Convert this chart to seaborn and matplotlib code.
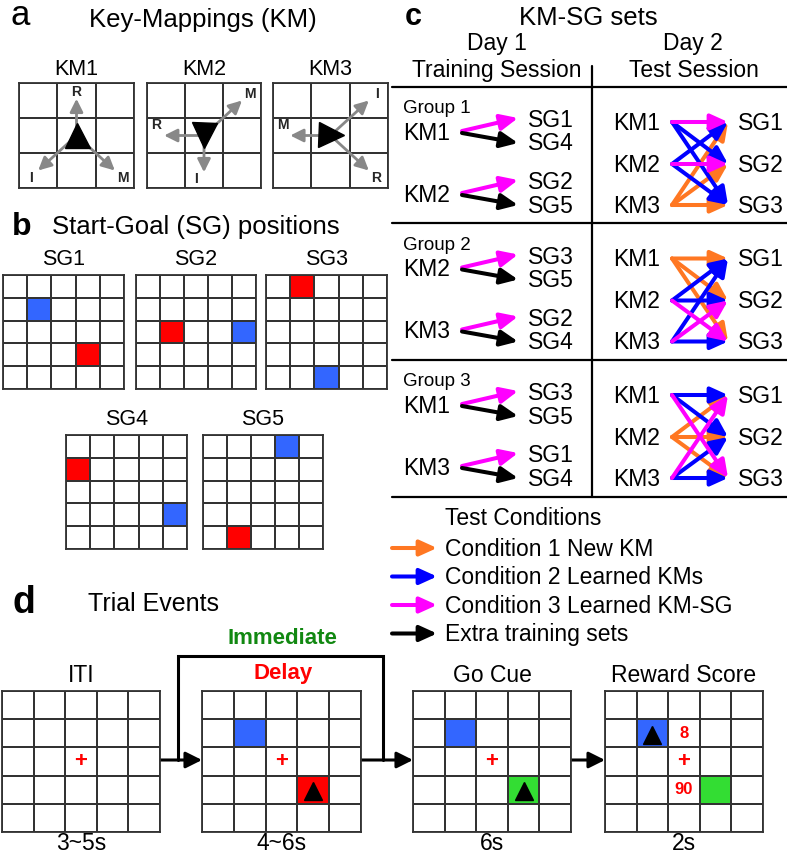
import numpy as np
import matplotlib
matplotlib.use('Agg')
import matplotlib.pyplot as plt
from matplotlib.colors import ListedColormap
import seaborn as sns

# ---------------- data ----------------
KM_NAMES = ['KM1', 'KM2', 'KM3']
KM_POINTER = ['^', 'v', '>']
# key finger -> direction (dcol, drow) on the 3x3 key grid
KM_KEYS = [
    [('R', (0, -1)), ('I', (-1, 1)), ('M', (1, 1))],
    [('M', (1, -1)), ('R', (-1, 0)), ('I', (0, 1))],
    [('I', (1, -1)), ('M', (-1, 0)), ('R', (1, 1))],
]

SG_NAMES = ['SG1', 'SG2', 'SG3', 'SG4', 'SG5']
SG_START = [(3, 3), (2, 1), (0, 1), (1, 0), (4, 1)]   # red cell (row, col)
SG_GOAL = [(1, 1), (2, 4), (4, 2), (3, 4), (0, 3)]    # blue cell (row, col)

GROUPS = ['Group 1', 'Group 2', 'Group 3']
GROUP_TRAIN = [[('KM1', 'SG1'), ('KM2', 'SG2')],
               [('KM2', 'SG3'), ('KM3', 'SG2')],
               [('KM1', 'SG3'), ('KM3', 'SG1')]]
GROUP_EXTRA = [[('KM1', 'SG4'), ('KM2', 'SG5')],
               [('KM2', 'SG5'), ('KM3', 'SG4')],
               [('KM1', 'SG5'), ('KM3', 'SG4')]]
TEST_KM = ['KM1', 'KM2', 'KM3']
TEST_SG = ['SG1', 'SG2', 'SG3']

CONDITIONS = ['Condition 1 New KM', 'Condition 2 Learned KMs',
              'Condition 3 Learned KM-SG', 'Extra training sets']
COND_COLORS = ['#ff7722', '#0000ff', '#ff00ff', 'black']

EVENT_TITLES = ['ITI', '', 'Go Cue', 'Reward Score']
EVENT_TIMES = ['3~5s', '4~6s', '6s', '2s']
# cell codes: 1 blue, 2 red, 3 green
EVENT_CELLS = [{}, {(1, 1): 1, (3, 3): 2}, {(1, 1): 1, (3, 3): 3}, {(1, 1): 1, (3, 3): 3}]
EVENT_CURSOR = [None, (3, 3), (3, 3), (1, 1)]
EVENT_SCORES = [[], [], [], [((1, 2), '8'), ((3, 2), '90')]]

# ---------------- figure ----------------
W, H = 787, 855
sns.set_theme(style='white')
plt.rcParams['font.family'] = ['Liberation Sans', 'DejaVu Sans']

fig = plt.figure(figsize=(W / 100, H / 100), dpi=100)
ov = fig.add_axes([0, 0, 1, 1])
ov.set_xlim(0, W)
ov.set_ylim(H, 0)
ov.axis('off')

cmap = ListedColormap(['white', '#3366ff', '#ff0000', '#33dd33'])
LINE = '#333333'


def px_axes(x0, y0, x1, y1):
    return fig.add_axes([x0 / W, 1 - y1 / H, (x1 - x0) / W, (y1 - y0) / H])


def grid(rect, mat):
    ax = px_axes(*rect)
    sns.heatmap(mat, ax=ax, cmap=cmap, vmin=-0.5, vmax=3.5, cbar=False,
                linewidths=1.1, linecolor=LINE, xticklabels=False, yticklabels=False)
    for s in ax.spines.values():
        s.set_visible(True)
        s.set_color(LINE)
        s.set_linewidth(1.3)
    return ax


def arrow(ax, x0, y0, x1, y1, color, lw=2.9, ms=19, hl=0.55, hw=0.25, z=3):
    ax.annotate('', xy=(x1, y1), xytext=(x0, y0), zorder=z,
                arrowprops=dict(arrowstyle=f'-|>,head_length={hl},head_width={hw}',
                                color=color, lw=lw, mutation_scale=ms,
                                shrinkA=0, shrinkB=0))


def text(x, y, s, size=16.5, ha='center', color='black', **kw):
    ov.text(x, y, s, fontsize=size, ha=ha, va='baseline', color=color, **kw)


# ---------------- a: key mappings ----------------
text(10, 25, 'a', size=25, ha='left')
text(203, 27, 'Key-Mappings (KM)', size=18.5)
km_x = [(19, 134), (147, 261), (273, 388)]
for i, name in enumerate(KM_NAMES):
    x0, x1 = km_x[i]
    text((x0 + x1) / 2, 75, name, size=15.5)
    ax = grid((x0, 83, x1, 188), np.zeros((3, 3)))
    for key, (dc, dr) in KM_KEYS[i]:
        scale = 1.0 if (dc and dr) else 1.05
        tx, ty = 1.5 + dc * scale, 1.5 + dr * scale
        arrow(ax, 1.5, 1.5, tx, ty, '#888888', lw=2.0, ms=13, hl=0.6, hw=0.3)
        lx, ly = tx + 0.2 * dc, ty + 0.2 * dr
        if dr == 0:
            ly -= 0.3
        elif dc == 0 and dr > 0:
            lx -= 0.2
        ax.text(lx, ly, key, fontsize=10, fontweight='bold', ha='center', va='center')
    ax.plot(1.5, 1.5, marker=KM_POINTER[i], ms=18, color='black', zorder=5)

# ---------------- b: start-goal positions ----------------
text(12, 235, 'b', size=23, ha='left', fontweight='bold')
text(196, 234, 'Start-Goal (SG) positions', size=18.5)
sg_rects = [(3, 275, 124, 389), (136, 275, 256, 389), (266, 275, 387, 389),
            (66, 435, 187, 549), (203, 435, 323, 549)]
for i, name in enumerate(SG_NAMES):
    x0, y0, x1, y1 = sg_rects[i]
    mat = np.zeros((5, 5))
    mat[SG_START[i]] = 2
    mat[SG_GOAL[i]] = 1
    grid(sg_rects[i], mat)
    text((x0 + x1) / 2, y0 - 10, name, size=15.5)

# ---------------- c: KM-SG sets ----------------
text(405, 25, 'c', size=22, ha='left', fontweight='bold')
text(588, 25, 'KM-SG sets', size=18.5)
text(497, 50, 'Day 1', size=16.5)
text(497, 77, 'Training Session', size=16.5)
text(693, 50, 'Day 2', size=16.5)
text(694, 77, 'Test Session', size=16.5)
for yl in [87, 223, 360, 497]:
    ov.plot([392, 787], [yl, yl], color='black', lw=1.6)
ov.plot([592, 592], [66, 497], color='black', lw=1.6)

for g, gname in enumerate(GROUPS):
    o = 136.5 * g
    text(403, 113 + o, gname, size=13.5, ha='left')
    for k, ((km, sg), (_, sg_x)) in enumerate(zip(GROUP_TRAIN[g], GROUP_EXTRA[g])):
        yc = 132 + 62 * k + o
        text(403, yc + 7.5, km, ha='left')
        text(528, yc - 12.5 + 7.5, sg, ha='left')
        text(528, yc + 11 + 7.5, sg_x, ha='left')
        arrow(ov, 462, yc - 1, 518, yc - 14, COND_COLORS[2])
        arrow(ov, 462, yc + 1, 518, yc + 11, COND_COLORS[3])
    trained = dict(GROUP_TRAIN[g])
    rows = [122 + o, 164 + o, 205 + o]
    arrows = []
    for a, km in enumerate(TEST_KM):
        text(613, rows[a] + 7.5, km, ha='left')
        for b, sg in enumerate(TEST_SG):
            if km not in trained:
                c = 0
            elif trained[km] == sg:
                c = 2
            else:
                c = 1
            arrows.append((c, a, b))
    for b, sg in enumerate(TEST_SG):
        text(738, rows[b] + 7.5, sg, ha='left')
    for c, a, b in sorted(arrows, key=lambda t: t[0]):
        arrow(ov, 672, rows[a], 728, rows[b], COND_COLORS[c], z=3 + c)

# legend
text(445, 525, 'Test Conditions', ha='left')
for i, (lab, col) in enumerate(zip(CONDITIONS, COND_COLORS)):
    yc = 548 + 28.5 * i
    arrow(ov, 392, yc, 437, yc, col)
    text(445, yc + 7.5, lab, ha='left')

# ---------------- d: trial events ----------------
text(12, 613, 'd', size=27, ha='left', fontweight='bold')
text(88, 611, 'Trial Events', size=18, ha='left')
ev_x = [(2, 160), (202, 361), (413, 571), (605, 763)]
for i in range(4):
    x0, x1 = ev_x[i]
    mat = np.zeros((5, 5))
    for cell, code in EVENT_CELLS[i].items():
        mat[cell] = code
    ax = grid((x0, 691, x1, 832), mat)
    ax.text(2.5, 2.5, '+', fontsize=16, fontweight='bold', color='#ff0000',
            ha='center', va='center')
    if EVENT_CURSOR[i] is not None:
        r, c = EVENT_CURSOR[i]
        ax.plot(c + 0.5, r + 0.55, marker='^', ms=13, color='black')
    for (r, c), s in EVENT_SCORES[i]:
        ax.text(c + 0.5, r + 0.5, s, fontsize=12, fontweight='bold', color='#ff0000',
                ha='center', va='center')
    if EVENT_TITLES[i]:
        text((x0 + x1) / 2, 682, EVENT_TITLES[i], size=16.5)
    text((x0 + x1) / 2, 850, EVENT_TIMES[i], size=16.5)

text(282, 644, 'Immediate', size=16, fontweight='bold', color='#118811')
text(283, 679, 'Delay', size=16, fontweight='bold', color='#ff0000')
ov.plot([178, 178, 383, 383], [760, 656, 656, 760], color='black', lw=2.2,
        solid_joinstyle='miter')
arrow(ov, 160, 760, 202, 760, 'black', lw=2.2, ms=14, hl=0.7, hw=0.35)
arrow(ov, 361, 760, 413, 760, 'black', lw=2.2, ms=14, hl=0.7, hw=0.35)
arrow(ov, 571, 760, 605, 760, 'black', lw=2.2, ms=14, hl=0.7, hw=0.35)

fig.savefig('out.png', dpi=100)
